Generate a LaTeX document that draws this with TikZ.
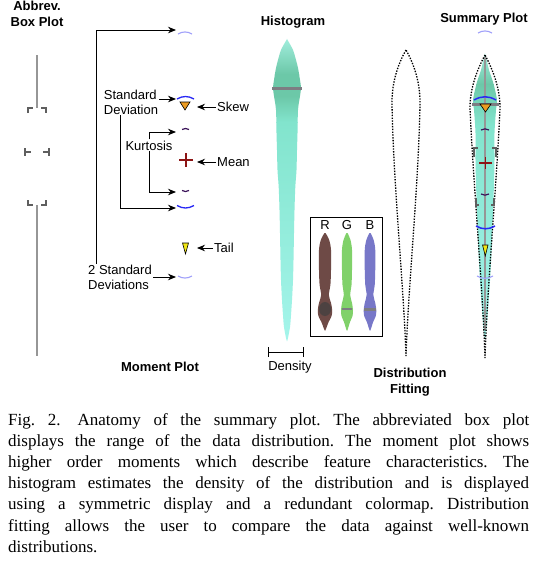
\documentclass[tikz,border=0pt]{standalone}
\usepackage{fontspec}
\setmainfont{Liberation Serif}
\setsansfont{Liberation Sans}
\usepackage{tikz}
\usetikzlibrary{arrows.meta,calc,positioning}
\definecolor{sdblue}{RGB}{40,40,245}
\definecolor{sdlight}{RGB}{160,160,250}
\definecolor{kurtpurple}{RGB}{60,20,90}
\definecolor{meanred}{RGB}{140,20,20}
\definecolor{skeworange}{RGB}{235,155,35}
\definecolor{tailyellow}{RGB}{240,230,20}
\definecolor{boxgray}{RGB}{150,150,150}
\definecolor{bracketgray}{RGB}{95,95,95}
\definecolor{histtop}{RGB}{165,240,225}
\definecolor{histdark}{RGB}{108,200,168}
\definecolor{histmid}{RGB}{130,228,205}
\definecolor{histpale}{RGB}{165,245,235}
\definecolor{bandgray}{RGB}{125,125,130}
\definecolor{rcol}{RGB}{95,55,50}
\definecolor{gcol}{RGB}{115,205,90}
\definecolor{bcol}{RGB}{105,105,195}

\begin{document}
\begin{tikzpicture}[x=1pt,y=-1pt,
  every node/.style={font=\sffamily\fontsize{13}{15}\selectfont,inner sep=1pt},
  ttl/.style={font=\sffamily\bfseries\fontsize{13}{16}\selectfont,align=center},
  lbl/.style={align=left},
  conn/.style={line width=0.9pt,-{Stealth[length=8pt,width=6.5pt]}},
  whisk/.style={boxgray,line width=2pt},
  brk/.style={bracketgray,line width=1.3pt},
  fitline/.style={black,line width=1.3pt,dash pattern=on 1.4pt off 1.4pt},
  tri/.style={draw=black,line width=0.6pt}]
\fill[white] (0,0) rectangle (537,563);
\useasboundingbox (0,0) rectangle (537,563);

% titles
\node[ttl] (tbox) at (37,13.5) {Abbrev.\\Box Plot};
\node[ttl,anchor=base] (thist) at (293,25) {Histogram};
\node[ttl,anchor=base] (tsum) at (484,22) {Summary Plot};
\node[ttl,anchor=base] (tmom) at (160,371) {Moment Plot};
\node[ttl,anchor=north] (tfit) at (410,366.5) {Distribution\\Fitting};

% abbreviated box plot
\draw[whisk] (37,55) -- (37,108);
\draw[whisk] (37,205) -- (37,356);
\draw[brk] (28,113) -- (28,108) -- (33,108);
\draw[brk] (41,108) -- (46,108) -- (46,113);
\draw[brk] (25,148) -- (25,156) (25,152) -- (31,152);
\draw[brk] (49,148) -- (49,156) (43,152) -- (49,152);
\draw[brk] (28,200) -- (28,205) -- (33,205);
\draw[brk] (41,205) -- (46,205) -- (46,200);

% moment plot
\draw[sdlight,line width=1.1pt] (178,34) to[bend left=30] (192,34);
\draw[sdblue,line width=1.3pt] (177,99) to[bend left=30] (194,99);
\draw[tri,fill=skeworange] (180,102) -- (190,102) -- (185,110) -- cycle;
\draw[kurtpurple,line width=1.2pt] (182,129.5) to[bend left=30] (189,129.5);
\draw[meanred,line width=1.1pt] (179,160) -- (193,160) (186,153) -- (186,167);
\fill[meanred] (186,160) circle (1.3);
\draw[kurtpurple,line width=1.2pt] (182,190.5) to[bend right=30] (189,190.5);
\draw[sdblue,line width=1.3pt] (177,205.5) to[bend right=30] (194,205.5);
\draw[tri,fill=tailyellow] (182.5,243) -- (188.5,243) -- (185.5,254) -- cycle;
\draw[sdlight,line width=1.1pt] (178,276) to[bend right=30] (192,276);

\coordinate (tsdupA) at (176,30);
\coordinate (sdupA) at (176,99);
\coordinate (kupA) at (176,132);
\coordinate (kloA) at (176,192);
\coordinate (sdloA) at (176,208);
\coordinate (tsdloA) at (176,277);
\coordinate (skewA) at (197,107);
\coordinate (meanA) at (197,162);
\coordinate (tailA) at (197,248);

\node[lbl] (sdlbl) at (131,102) {Standard\\Deviation};
\node[anchor=base] (kurtlbl) at (149,150) {Kurtosis};
\node[lbl] (tsdlbl) at (120,277) {2 Standard\\Deviations};
\node[anchor=west] (skewlbl) at (216,107) {Skew};
\node[anchor=west] (meanlbl) at (216,162) {Mean};
\node[anchor=west] (taillbl) at (213,248) {Tail};

\draw[conn] (skewlbl.west) -- (skewA);
\draw[conn] (meanlbl.west) -- (meanA);
\draw[conn] (taillbl.west) -- (tailA);
\draw[conn] (sdlbl.east |- sdupA) -- (sdupA);
\draw[conn] ([xshift=-11pt]sdlbl.south) |- (sdloA);
\draw[conn] (kurtlbl.north) |- (kupA);
\draw[conn] (kurtlbl.south) |- (kloA);
\draw[conn] (tsdlbl.east |- tsdloA) -- (tsdloA);
\draw[conn] ([xshift=-24pt]tsdlbl.north) |- (tsdupA);

% histogram
\begin{scope}
\clip plot[smooth cycle] coordinates {(286.5,40) (281,50) (278,60) (276,68) (274,80) (273,88) (274,96) (276,110) (276.5,133) (277,150) (277.5,170) (278.7,187) (279.5,210) (280,233) (280.5,260) (281,280) (282,300) (283,315) (284,327) (286.5,340)
  (287.5,340) (290,327) (291,315) (292,300) (293,280) (293.5,260) (294,233) (294.5,210) (295.3,187) (296.5,170) (297,150) (297.5,133) (298,110) (300,96) (301,88) (300,80) (298,68) (296,60) (293,50) (287.5,40)};
\shade[top color=histtop,bottom color=histdark] (268,36) rectangle (306,74);
\fill[histdark] (268,74) rectangle (306,96);
\shade[top color=histdark,bottom color=histmid] (268,96) rectangle (306,122);
\shade[top color=histmid,bottom color=histpale] (268,122) rectangle (306,344);
\end{scope}
\draw[bandgray,line width=3pt] (272,88) -- (302,88);
\draw[line width=1pt] (268,352) -- (303,352) (268,347) -- (268,357) (303,347) -- (303,357);
\node[anchor=base] (dens) at (290,370) {Density};

% colormap inset
\draw[line width=0.8pt] (310,217) rectangle (382,336);
\node[anchor=base] (rlbl) at (325,229) {R};
\node[anchor=base] (glbl) at (347,229) {G};
\node[anchor=base] (blbl) at (370,229) {B};
\foreach \cx/\col/\s in {325/rcol/1.2,347/gcol/1,370/bcol/1.05}{
  \fill[\col,opacity=0.9] plot[smooth cycle] coordinates {({\cx-0.5},233) ({\cx-3.5*\s},240) ({\cx-5*\s},250) ({\cx-5*\s},270) ({\cx-4.5*\s},285) ({\cx-3.2*\s},295) ({\cx-5*\s},303) ({\cx-6*\s},310) ({\cx-5.5*\s},316) ({\cx-3*\s},322) ({\cx-0.5},330)
    ({\cx+0.5},330) ({\cx+3*\s},322) ({\cx+5.5*\s},316) ({\cx+6*\s},310) ({\cx+5*\s},303) ({\cx+3.2*\s},295) ({\cx+4.5*\s},285) ({\cx+5*\s},270) ({\cx+5*\s},250) ({\cx+3.5*\s},240) ({\cx+0.5},233)};
}
\fill[black!75,opacity=0.7] (325,309) ellipse (6 and 7);
\draw[bandgray,line width=2pt] (342,309) -- (352,309);
\draw[bandgray,line width=3pt] (364,309) -- (376,309);

% distribution fitting
\draw[fitline] (406,50) .. controls (398,64) and (392,82) .. (392,102) .. controls (393,180) and (404,290) .. (406,356)
  .. controls (408,290) and (419,180) .. (420,102) .. controls (420,82) and (414,64) .. (406,50);

% summary plot
\begin{scope}
\clip plot[smooth cycle] coordinates {(484.5,55) (481,70) (476.7,83) (473,100) (474,110) (475.5,133) (475.5,160) (476,183) (477,213) (478,240) (479,263) (481,297) (483,323) (484.5,338)
  (485.5,338) (487,323) (489,297) (491,263) (492,240) (493,213) (494,183) (494.5,160) (494.5,133) (496,110) (497,100) (493.3,83) (489,70) (485.5,55)};
\shade[top color=histtop,bottom color=histdark] (468,52) rectangle (502,84);
\shade[top color=histdark,bottom color=histmid] (468,84) rectangle (502,125);
\shade[top color=histmid,bottom color=histpale] (468,125) rectangle (502,340);
\end{scope}
\draw[boxgray,line width=1.2pt] (485,57) -- (485,330);
\draw[bandgray,line width=3pt] (472,104) -- (499,104);
\draw[fitline] (485,55) .. controls (477,70) and (470,88) .. (470,108) .. controls (473,180) and (483,290) .. (485,358)
  .. controls (487,290) and (497,180) .. (500,108) .. controls (500,88) and (493,70) .. (485,55);
\draw[sdlight,line width=1.1pt] (478,33) to[bend left=30] (492,33);
\draw[sdblue,line width=1.5pt] (474,100) to[bend left=30] (496,100);
\draw[tri,fill=skeworange] (480,104) -- (491,104) -- (485.5,112) -- cycle;
\draw[kurtpurple,line width=1.2pt] (481,130) to[bend left=30] (489,130);
\draw[brk] (474,157) -- (474,148) -- (478,148);
\draw[brk] (496,157) -- (496,148) -- (492,148);
\draw[meanred,line width=1.1pt] (479,163) -- (492,163) (485.5,157) -- (485.5,169);
\fill[meanred] (485.5,163) circle (1.3);
\draw[kurtpurple,line width=1.2pt] (481,194) to[bend right=30] (489,194);
\draw[brk] (476,198) -- (476,205) -- (479,205);
\draw[brk] (494,198) -- (494,205) -- (491,205);
\draw[sdblue,line width=1.5pt] (476,226) to[bend right=30] (495,226);
\draw[tri,fill=tailyellow] (482.5,245) -- (488,245) -- (485.3,256) -- cycle;
\draw[sdlight,line width=1.1pt] (477,276) to[bend right=30] (493,276);

% caption
\node[anchor=north west,inner sep=0pt,text width=521pt,align=justify,
  font=\rmfamily\fontsize{17}{21.2}\selectfont\frenchspacing] (caption) at (8,413)
  {Fig.~2.\hspace{1em}Anatomy of the summary plot. The abbreviated box plot\linebreak
   displays the range of the data distribution. The moment plot shows\linebreak
   higher order moments which describe feature characteristics. The\linebreak
   histogram estimates the density of the distribution and is displayed\linebreak
   using a symmetric display and a redundant colormap. Distribution\linebreak
   fitting allows the user to compare the data against well-known\linebreak
   distributions.};
\end{tikzpicture}
\end{document}
